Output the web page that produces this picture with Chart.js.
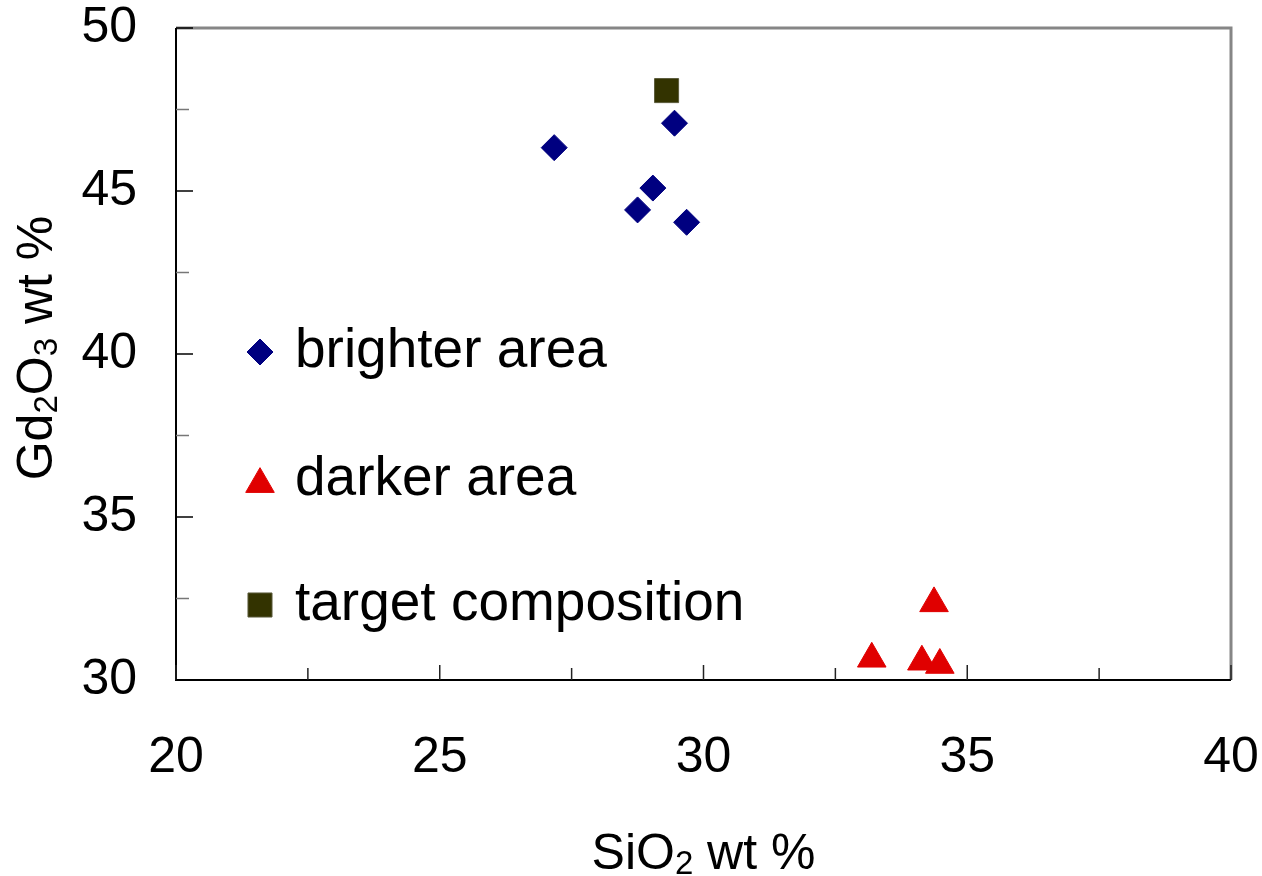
<!DOCTYPE html>
<html lang="en">
<head>
<meta charset="UTF-8">
<title>Gd2O3 vs SiO2</title>
<script src="https://cdn.jsdelivr.net/npm/chart.js"></script>
<style>
  html, body { margin: 0; padding: 0; background: #fff; }
  canvas { display: block; }
</style>
</head>
<body>
<canvas id="chart" width="1262" height="876"></canvas>
<script>
  // compositions (wt %)
  const brighterSiO2 = [27.17, 29.45, 29.04, 28.75, 29.68];
  const brighterGd2O3 = [46.33, 47.08, 45.09, 44.42, 44.04];
  const darkerSiO2 = [34.37, 33.19, 34.14, 34.48];
  const darkerGd2O3 = [32.35, 30.65, 30.56, 30.46];
  const targetSiO2 = [29.30];
  const targetGd2O3 = [48.08];

  const seriesNames = ['brighter area', 'darker area', 'target composition'];
  const xTickLabels = [20, 25, 30, 35, 40];
  const yTickLabels = [30, 35, 40, 45, 50];

  const FONT = "'Liberation Sans', Arial, sans-serif";

  function toPoints(xs, ys) {
    return xs.map((x, i) => ({ x: x, y: ys[i] }));
  }

  // frame + inward tick marks
  const framePlugin = {
    id: 'frame',
    beforeDatasetsDraw(chart) {
      const ctx = chart.ctx;
      const a = chart.chartArea;
      const xs = chart.scales.x, ys = chart.scales.y;
      ctx.save();
      // top and right in gray
      ctx.strokeStyle = '#868686';
      ctx.lineWidth = 3;
      ctx.beginPath();
      ctx.moveTo(a.left, a.top);
      ctx.lineTo(a.right, a.top);
      ctx.lineTo(a.right, a.bottom);
      ctx.stroke();
      // left and bottom in black
      ctx.strokeStyle = '#000';
      ctx.lineWidth = 2;
      ctx.beginPath();
      ctx.moveTo(a.left, a.top);
      ctx.lineTo(a.left, a.bottom);
      ctx.lineTo(a.right, a.bottom);
      ctx.stroke();
      ctx.lineWidth = 1.5;
      xs.ticks.forEach(t => {
        const px = xs.getPixelForValue(t.value);
        const major = t.value % 5 === 0;
        ctx.strokeStyle = '#222';
        ctx.beginPath();
        ctx.moveTo(px, a.bottom);
        ctx.lineTo(px, a.bottom - (major ? 15 : 12));
        ctx.stroke();
      });
      ys.ticks.forEach(t => {
        const py = ys.getPixelForValue(t.value);
        const major = t.value % 5 === 0;
        ctx.strokeStyle = major ? '#000' : '#777';
        ctx.beginPath();
        ctx.moveTo(a.left, py);
        ctx.lineTo(a.left + (major ? 17 : 13), py);
        ctx.stroke();
      });
      ctx.restore();
    }
  };

  // axis titles with subscripts, legend inside the plot
  function drawRich(ctx, parts, size) {
    let w = 0;
    parts.forEach(p => {
      ctx.font = (p.sub ? Math.round(size * 0.66) : size) + 'px ' + FONT;
      w += ctx.measureText(p.t).width;
    });
    let x = -w / 2;
    parts.forEach(p => {
      ctx.font = (p.sub ? Math.round(size * 0.66) : size) + 'px ' + FONT;
      ctx.fillText(p.t, x, p.sub ? 5 : 0);
      x += ctx.measureText(p.t).width;
    });
  }

  const extrasPlugin = {
    id: 'extras',
    afterDraw(chart) {
      const ctx = chart.ctx;
      const a = chart.chartArea;
      ctx.save();
      ctx.fillStyle = '#000';
      ctx.textAlign = 'left';
      ctx.textBaseline = 'alphabetic';

      ctx.save();
      ctx.translate((a.left + a.right) / 2, 869);
      drawRich(ctx, [{ t: 'SiO' }, { t: '2', sub: true }, { t: ' wt %' }], 50);
      ctx.restore();

      ctx.save();
      ctx.translate(52, 348);
      ctx.rotate(-Math.PI / 2);
      drawRich(ctx, [{ t: 'Gd' }, { t: '2', sub: true }, { t: 'O' }, { t: '3', sub: true }, { t: ' wt %' }], 50);
      ctx.restore();

      const rows = [352, 480, 605];
      chart.data.datasets.forEach((ds, i) => {
        const y = rows[i];
        const r = ds.pointRadius;
        const my = ds.pointStyle === 'triangle' ? y + r / 4 : y;
        ctx.fillStyle = ds.backgroundColor;
        ctx.strokeStyle = ds.borderColor;
        ctx.lineWidth = ds.borderWidth;
        Chart.helpers.drawPoint(ctx, { pointStyle: ds.pointStyle, radius: r, rotation: 0, borderWidth: ds.borderWidth }, 260, my);
        ctx.fillStyle = '#000';
        ctx.font = '55px ' + FONT;
        ctx.fillText(ds.label, 295, y + 15);
      });
      ctx.restore();
    }
  };

  new Chart(document.getElementById('chart'), {
    type: 'scatter',
    data: {
      datasets: [
        {
          label: seriesNames[0],
          data: toPoints(brighterSiO2, brighterGd2O3),
          pointStyle: 'rectRot',
          pointRadius: 13,
          backgroundColor: '#000080',
          borderColor: '#000080',
          borderWidth: 1
        },
        {
          label: seriesNames[1],
          data: toPoints(darkerSiO2, darkerGd2O3),
          pointStyle: 'triangle',
          pointRadius: 16.5,
          backgroundColor: '#e00000',
          borderColor: '#e00000',
          borderWidth: 1
        },
        {
          label: seriesNames[2],
          data: toPoints(targetSiO2, targetGd2O3),
          pointStyle: 'rect',
          pointRadius: 17,
          backgroundColor: '#333300',
          borderColor: '#5a5a3a',
          borderWidth: 1
        }
      ]
    },
    options: {
      responsive: false,
      animation: false,
      layout: { padding: { top: 28, right: 31, left: 0, bottom: 0 } },
      plugins: {
        legend: { display: false },
        tooltip: { enabled: false }
      },
      scales: {
        x: {
          type: 'linear',
          min: 20,
          max: 40,
          grid: { display: false, drawTicks: false },
          border: { display: false },
          ticks: {
            stepSize: 2.5,
            autoSkip: false,
            maxRotation: 0,
            padding: 53,
            color: '#000',
            font: { family: FONT, size: 50, lineHeight: 1 },
            callback: v => xTickLabels.includes(v) ? String(v) : ''
          },
          afterFit: s => {
            s.height = 196;
            s.paddingLeft = 0;
            s.paddingRight = 0;
          }
        },
        y: {
          type: 'linear',
          min: 30,
          max: 50,
          grid: { display: false, drawTicks: false },
          border: { display: false },
          ticks: {
            stepSize: 2.5,
            autoSkip: false,
            padding: 39,
            color: '#000',
            font: { family: FONT, size: 50, lineHeight: 1 },
            callback: v => yTickLabels.includes(v) ? String(v) : ''
          },
          afterFit: s => {
            s.width = 176;
            s.paddingTop = 0;
            s.paddingBottom = 0;
          }
        }
      }
    },
    plugins: [framePlugin, extrasPlugin]
  });
</script>
</body>
</html>
